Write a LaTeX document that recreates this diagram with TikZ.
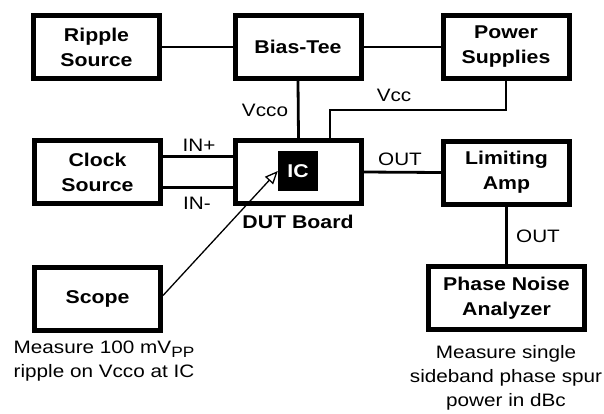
\documentclass[tikz,border=0pt]{standalone}
\usepackage{fontspec}
\setmainfont{Liberation Sans}[FakeStretch=1.15]
\usetikzlibrary{arrows.meta,calc}
\newcommand{\mysubpp}{\raisebox{-3.5pt}{\fontsize{15}{15}\selectfont PP}}
\begin{document}
\begin{tikzpicture}[x=1pt,y=-1pt,
  box/.style={draw=black,line width=5pt,fill=white,align=center,
    minimum width=126pt,minimum height=63pt,inner sep=0pt,
    font=\fontsize{18.5}{25}\selectfont\bfseries},
  conn/.style={draw=black,line width=2.8pt},
  lbl/.style={inner sep=0pt,font=\fontsize{18}{24}\selectfont},
  captxt/.style={inner sep=0pt,align=center,font=\fontsize{18}{24}\selectfont}]
\useasboundingbox (0,0) rectangle (604,413);
\node[box] (ripple) at (96.5,47) {Ripple\\Source};
\node[box] (bias) at (298,47) {Bias-Tee};
\node[box] (power) at (506,47) {Power\\Supplies};
\node[box] (clock) at (97.5,172) {Clock\\Source};
\node[box] (dut) at (298.5,172) {};
\node[box] (lim) at (506.5,172.5) {Limiting\\Amp};
\node[box] (scope) at (97.5,298.5) {Scope};
\node[box,minimum width=156pt] (pna) at (506.5,298) {Phase Noise\\Analyzer};
\node[fill=black,text=white,minimum size=40pt,inner sep=0pt,
  font=\fontsize{18.5}{24}\selectfont\bfseries] (ic) at (298,171) {IC};
\node[lbl,font=\fontsize{18.5}{24}\selectfont\bfseries] (dutlbl) at (298,222) {DUT Board};
% connectors
\draw[conn] (ripple.east) -- (bias.west);
\draw[conn] (bias.east) -- (power.west);
\draw[conn] (bias.south) -- (dut.north);
\coordinate (vccbend) at (330,110);
\draw[conn] (vccbend |- dut.north) -- (vccbend) -| (power.south);
\draw[conn] ($(clock.east)+(0,-15.5)$) -- ($(dut.west)+(0,-15.5)$);
\draw[conn] ($(clock.east)+(0,15.5)$) -- ($(dut.west)+(0,15.5)$);
\draw[conn] (dut.east) -- (lim.west);
\draw[conn] (lim.south) -- (pna.north);
\draw[line width=1.3pt,-{Triangle[length=13pt,width=11pt,fill=white,line width=1.3pt]}]
  ($(scope.east)+(0,-3)$) -- (ic.west);
% labels
\node[lbl] (vcco) at (265,110) {Vcco};
\node[lbl] (vcc) at (394,95) {Vcc};
\node[lbl] (inp) at (199,145) {IN+};
\node[lbl] (inm) at (197,203) {IN-};
\node[lbl] (out1) at (400,159) {OUT};
\node[lbl] (out2) at (538,236) {OUT};
\node[captxt] (capl) at (104,361.5) {Measure 100 mV\mysubpp\\ripple on Vcco at IC};
\node[captxt] (capr) at (506,377.5) {Measure single\\sideband phase spur\\power in dBc};
\end{tikzpicture}
\end{document}
